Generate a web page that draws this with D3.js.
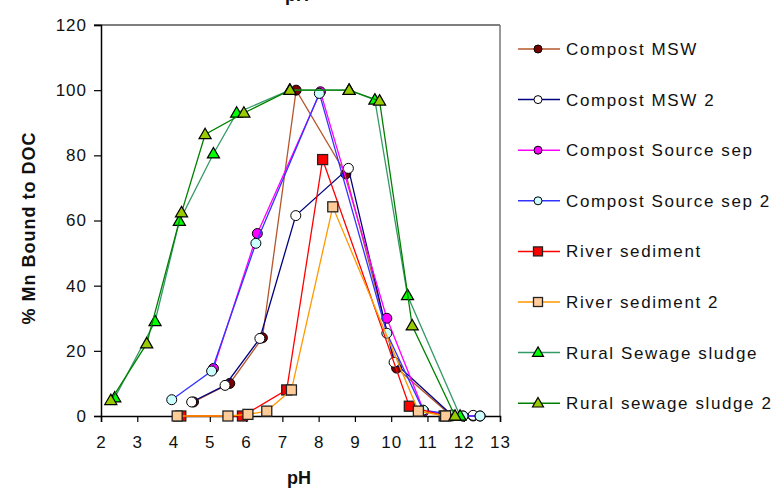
<!DOCTYPE html>
<html><head><meta charset="utf-8">
<script src="https://cdn.jsdelivr.net/npm/d3@7"></script>
<style>body{margin:0;background:#fff}svg{display:block;font-family:"Liberation Sans",Arial,sans-serif}</style>
</head><body><svg id="c" width="779" height="491"></svg>
<script>
const xTicks = [2,3,4,5,6,7,8,9,10,11,12,13];
const yTicks = [0,20,40,60,80,100,120];
const seriesNames = ["Compost MSW","Compost MSW 2","Compost Source sep","Compost Source sep 2","River sediment","River sediment 2","Rural Sewage sludge","Rural sewage sludge 2"];
const compostMSW = [[4.55,4.3],[5.55,10],[6.45,24],[7.38,100],[8.75,74.3],[10.15,14.7],[11.67,0],[12.26,0]];
const compostMSW2 = [[4.5,4.3],[5.42,9.4],[6.38,23.8],[7.37,61.5],[8.82,76],[10.08,16.5],[11.67,0.3],[12.26,0.2]];
const compostSourceSep = [[5.1,14.6],[6.31,56],[8.05,99.5],[9.88,30],[10.9,1.5],[11.98,0],[12.45,0]];
const compostSourceSep2 = [[3.95,5],[5.05,13.8],[6.27,53],[8.02,99],[9.88,25.4],[10.88,1.8],[11.98,0],[12.45,0]];
const riverSediment = [[4.2,0],[5.9,0],[7.12,8],[8.11,78.7],[10.5,3],[11.46,0]];
const riverSediment2 = [[4.1,0],[5.5,0],[6.05,0.5],[6.57,1.5],[7.25,8],[8.39,64.2],[10.75,1.5],[11.5,0]];
const ruralSewageSludge = [[2.38,5.6],[3.49,29],[4.16,59.8],[5.1,80.5],[5.74,93],[7.2,100],[8.84,100],[9.55,97],[10.45,37],[11.9,0]];
const ruralSewageSludge2 = [[2.27,4.8],[3.26,22.2],[4.22,62.4],[4.87,86.4],[5.94,93],[7.21,100],[8.84,100],[9.68,96.7],[10.58,27.7],[11.76,0]];

const seriesData = [compostMSW,compostMSW2,compostSourceSep,compostSourceSep2,riverSediment,riverSediment2,ruralSewageSludge,ruralSewageSludge2];
const styles = [
  {line:"#B5562B", fill:"#7B0000", shape:"circle"},
  {line:"#000080", fill:"#FFFFFF", shape:"circle"},
  {line:"#FF00FF", fill:"#FF00FF", shape:"circle"},
  {line:"#3333FF", fill:"#CCFFFF", shape:"circle"},
  {line:"#FF0000", fill:"#FF0000", shape:"square"},
  {line:"#FF9900", fill:"#FFCC99", shape:"square"},
  {line:"#339966", fill:"#00FF00", shape:"triangle"},
  {line:"#008000", fill:"#99CC00", shape:"triangle"}
];

const svg = d3.select("#c");
const L=101,R=500,T=25,B=416;
const x = d3.scaleLinear().domain([2,13]).range([L,R]);
const y = d3.scaleLinear().domain([0,120]).range([B,T]);

// frame
svg.append("line").attr("x1",94).attr("x2",R).attr("y1",T).attr("y2",T).attr("stroke","#555").attr("stroke-width",1.5);
svg.append("line").attr("x1",R).attr("x2",R).attr("y1",T).attr("y2",B).attr("stroke","#777").attr("stroke-width",1.5);

const xAxis = svg.append("g").attr("transform",`translate(0,${B})`)
  .call(d3.axisBottom(x).tickValues(xTicks).tickFormat(d3.format("d")).tickSize(6).tickPadding(14));
const yAxis = svg.append("g").attr("transform",`translate(${L},0)`)
  .call(d3.axisLeft(y).tickValues(yTicks).tickFormat(d3.format("d")).tickSize(7).tickPadding(7));
[xAxis,yAxis].forEach(g=>{
  g.select(".domain").attr("stroke","#000").attr("stroke-width",1.5);
  g.selectAll(".tick line").attr("stroke","#000").attr("stroke-width",1.2);
  g.selectAll("text").attr("font-size",17).attr("fill","#111").style("letter-spacing","1px").attr("font-family","Liberation Sans, Arial, sans-serif");
});

// axis titles
svg.append("text").attr("x",299).attr("y",484).attr("text-anchor","middle").attr("font-weight","bold").attr("font-size",18).attr("fill","#111").text("pH");
svg.append("text").attr("x",297).attr("y",1).attr("text-anchor","middle").attr("font-weight","bold").attr("font-size",18).attr("fill","#111").text("pH");
svg.append("text").attr("transform","translate(35,228) rotate(-90)").attr("text-anchor","middle").attr("font-weight","bold").attr("font-size",18).style("letter-spacing","1px").attr("fill","#111").text("% Mn Bound to DOC");

function marker(g, shape, cx, cy, size, fill){
  if(shape==="circle"){
    g.append("circle").attr("cx",cx).attr("cy",cy).attr("r",size/2).attr("fill",fill).attr("stroke","#000").attr("stroke-width",1);
  } else if(shape==="square"){
    g.append("rect").attr("x",cx-size/2).attr("y",cy-size/2).attr("width",size).attr("height",size).attr("fill",fill).attr("stroke","#222").attr("stroke-width",1.3);
  } else {
    const h=size*0.95, w=size*1.1;
    g.append("path").attr("d",`M${cx},${cy-h*0.6}L${cx+w/2},${cy+h*0.4}L${cx-w/2},${cy+h*0.4}Z`).attr("fill",fill).attr("stroke","#000").attr("stroke-width",1.2);
  }
}

const line = d3.line().x(d=>x(d[0])).y(d=>y(d[1]));
seriesData.forEach((data,i)=>{
  const st=styles[i];
  const g=svg.append("g");
  g.append("path").attr("d",line(data)).attr("fill","none").attr("stroke",st.line).attr("stroke-width",1.3);
  data.forEach(d=>marker(g,st.shape,x(d[0]),y(d[1]),st.shape==="circle"?10:(st.shape==="square"?10:11),st.fill));
});

// legend
const lg = svg.append("g");
seriesNames.forEach((name,i)=>{
  const st=styles[i];
  const cy = 49 + i*50.6;
  lg.append("line").attr("x1",518).attr("x2",560).attr("y1",cy).attr("y2",cy).attr("stroke",st.line).attr("stroke-width",1.5);
  marker(lg,st.shape,538,cy,st.shape==="circle"?8:(st.shape==="square"?9:10),st.fill);
  lg.append("text").attr("x",566).attr("y",cy+6).attr("font-size",17).style("letter-spacing","1.6px").attr("fill","#111").text(name);
});
</script></body></html>
